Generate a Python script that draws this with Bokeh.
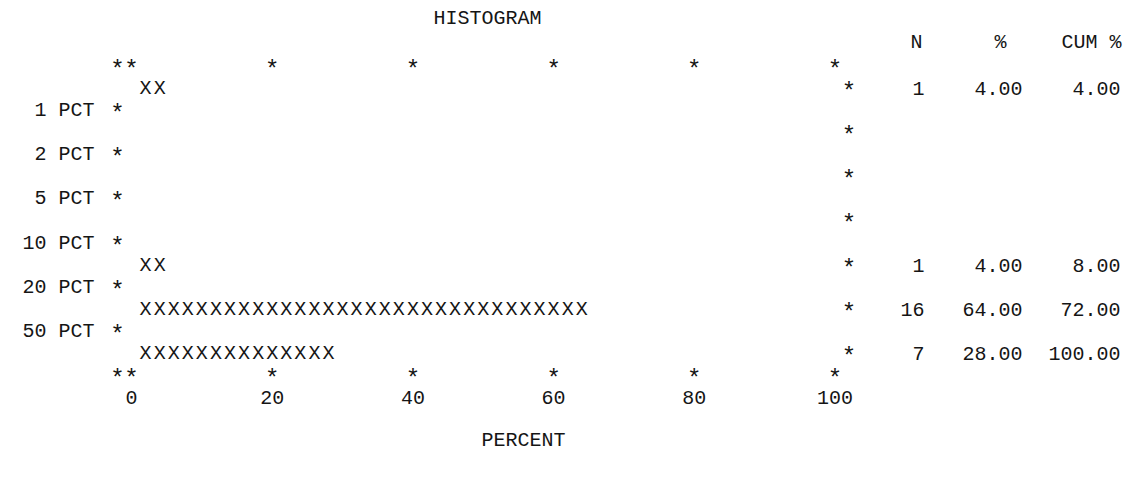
from bokeh.plotting import figure
from bokeh.models import Range1d, ColumnDataSource
from bokeh.core.properties import value
from bokeh.embed import file_html
from bokeh.resources import INLINE

# ---------------- data ----------------
title = "HISTOGRAM"
x_label = "PERCENT"
stat_headers = ["N", "%", "CUM %"]
percentile_labels = ["1 PCT", "2 PCT", "5 PCT", "10 PCT", "20 PCT", "50 PCT"]
bin_counts = [1, 0, 0, 0, 1, 16, 7]
bin_percent = [4.00, 0.0, 0.0, 0.0, 4.00, 64.00, 28.00]
bin_cum_percent = [4.00, 4.00, 4.00, 4.00, 8.00, 72.00, 100.00]
x_ticks = [0, 20, 40, 60, 80, 100]
percent_per_mark = 2  # each X stands for 2 percent

# ---------------- layout ----------------
W, H = 1126, 479
PAGE = 0
X0_PX = 131 - PAGE       # canvas pixel of 0 percent
PX_PER_PCT = 7.035
Y0_PX = 66 - PAGE        # canvas pixel of top axis row
ROW_PX = 22.07

def xs(page_x):
    return (page_x - PAGE - X0_PX) / PX_PER_PCT

def ys(page_y):
    return (page_y - PAGE - Y0_PX) / ROW_PX

FONT = value("Liberation Mono")
FS = "20px"
COLOR = "#151515"

p = figure(width=W, height=H, output_backend="svg", toolbar_location=None,
           x_range=Range1d(-X0_PX / PX_PER_PCT, (W - X0_PX) / PX_PER_PCT),
           y_range=Range1d((H - Y0_PX) / ROW_PX, -Y0_PX / ROW_PX),
           min_border=0)
p.axis.visible = False
p.grid.visible = False
p.outline_line_color = None
p.background_fill_color = "white"
p.border_fill_color = "white"

def put(x, y, t, align="center", size=FS, yoff=0):
    src = ColumnDataSource(dict(x=x, y=y, t=t))
    p.text("x", "y", text="t", source=src, text_font=FONT, text_font_size=size,
           text_color=COLOR, text_align=align, text_baseline="middle",
           y_offset=yoff)

def stars(x, y):
    put(x, y, ["*"] * len(x), size="24px", yoff=4)

n_bins = len(bin_counts)
bin_rows = [1 + 2 * i for i in range(n_bins)]
label_rows = [2 + 2 * i for i in range(len(percentile_labels))]
bottom_row = 2 * n_bins

# title / header / x label
put([xs(487)], [ys(18)], [title])
put([xs(916), xs(1000)], [ys(42)] * 2, stat_headers[:2])
put([xs(1121)], [ys(42)], [stat_headers[2]], align="right")
put([xs(523)], [ys(440)], [x_label])

# axis stars (top and bottom), with the left corner star
border_left = -percent_per_mark
border_right = 100 + percent_per_mark
for row in (0, bottom_row):
    stars([border_left] + x_ticks, [row] * (len(x_ticks) + 1))

# tick labels
put(x_ticks, [bottom_row + 1] * len(x_ticks), [str(t) for t in x_ticks])

# left border with percentile labels
stars([border_left] * len(label_rows), label_rows)
put([xs(94)] * len(label_rows), label_rows, percentile_labels, align="right")

# right border
stars([border_right] * n_bins, bin_rows)

# bars made of X marks
mx, my = [], []
for row, pct in zip(bin_rows, bin_percent):
    n = int(round(pct / percent_per_mark))
    for k in range(n):
        mx.append(percent_per_mark * (k + 1))
        my.append(row)
put(mx, my, ["X"] * len(mx))

# statistics
sr, sn, sp, sc = [], [], [], []
for row, n, pct, cum in zip(bin_rows, bin_counts, bin_percent, bin_cum_percent):
    if n > 0:
        sr.append(row)
        sn.append(str(n))
        sp.append(f"{pct:.2f}")
        sc.append(f"{cum:.2f}")
put([xs(924)] * len(sr), sr, sn, align="right")
put([xs(1022)] * len(sr), sr, sp, align="right")
put([xs(1120)] * len(sr), sr, sc, align="right")

open("out.html", "w").write(file_html(p, INLINE))
